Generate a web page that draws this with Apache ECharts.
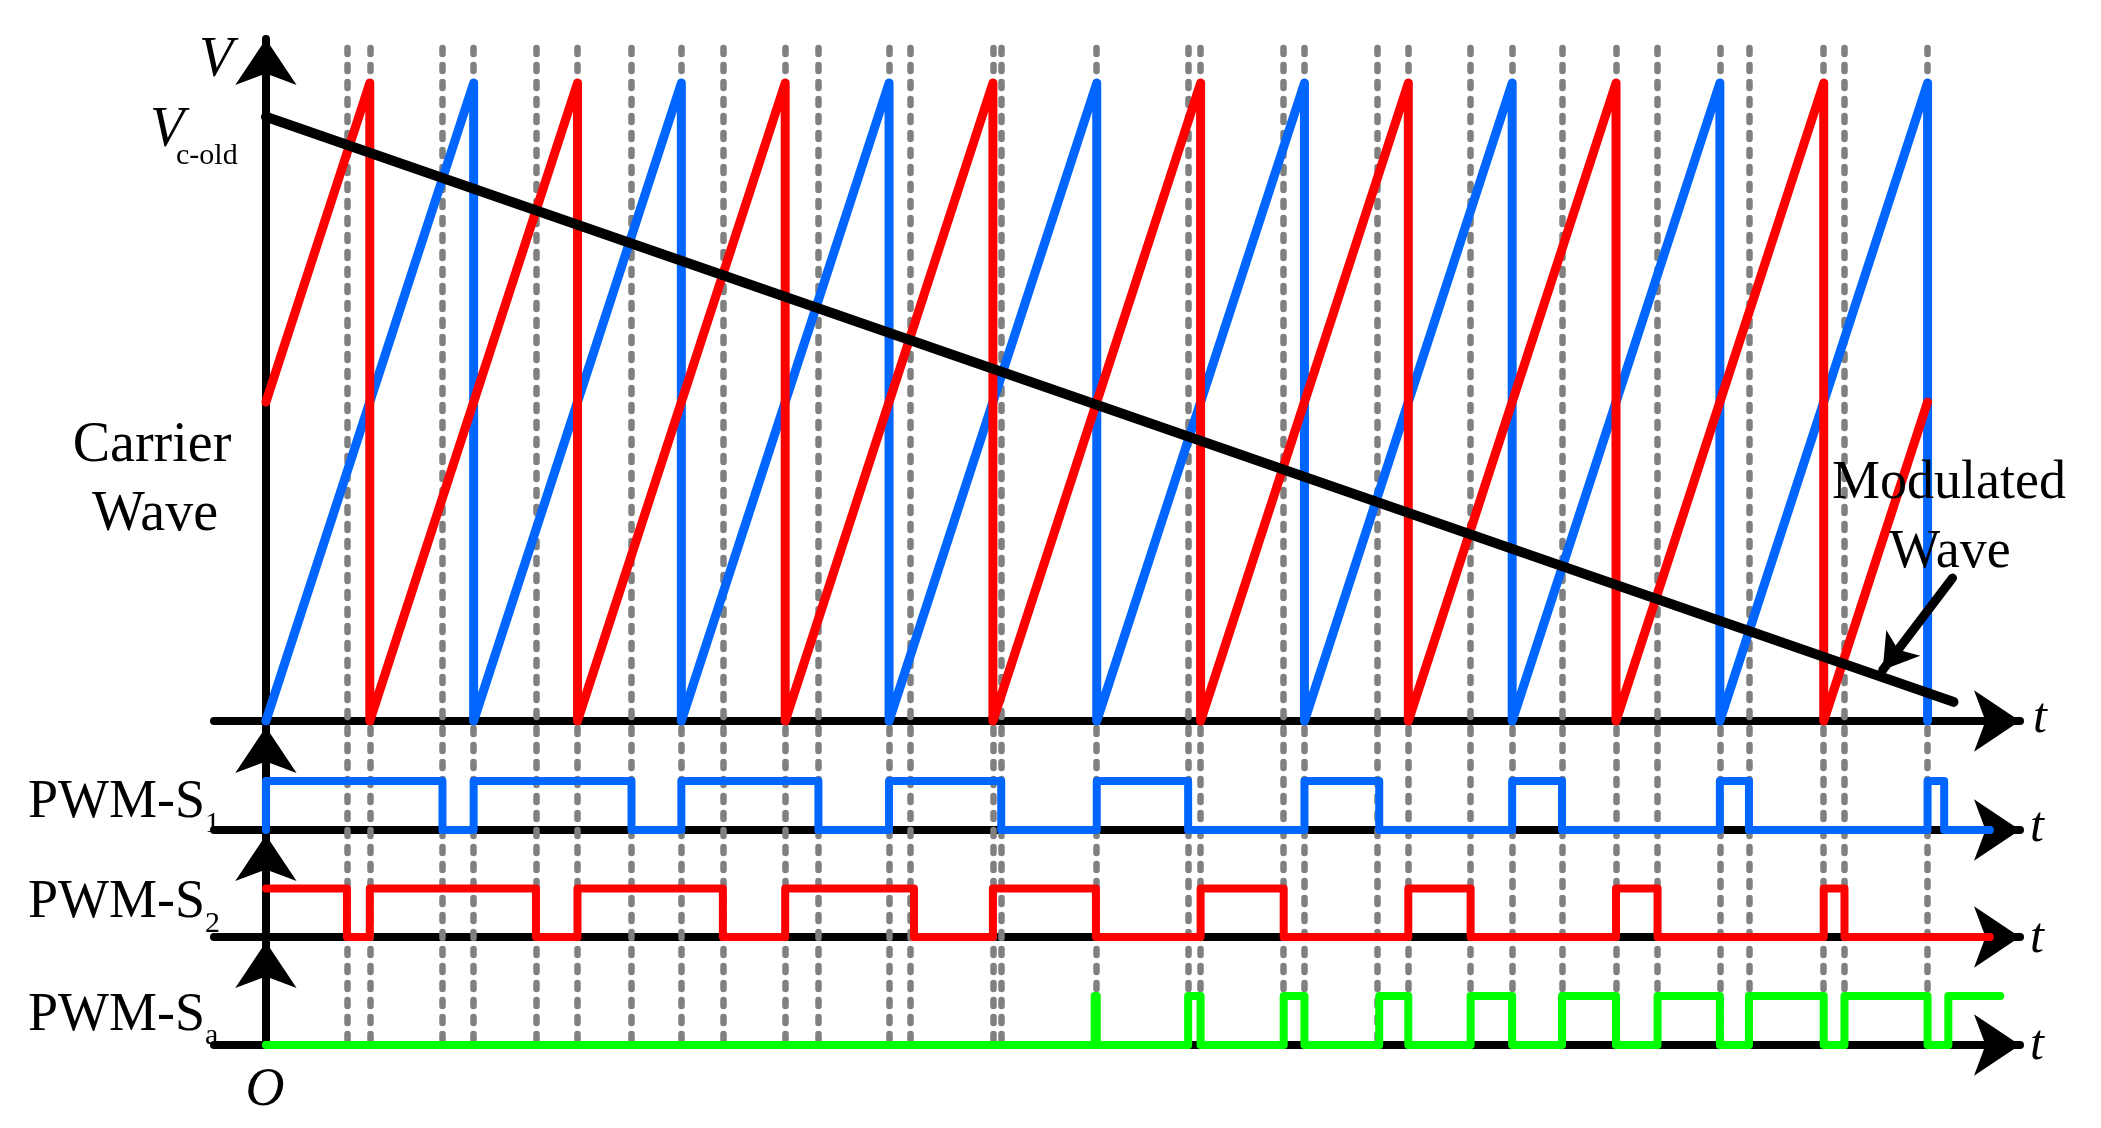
<!DOCTYPE html>
<html>
<head>
<meta charset="utf-8">
<script src="https://cdn.jsdelivr.net/npm/echarts@6/dist/echarts.min.js"></script>
<style>
  html, body { margin: 0; padding: 0; background: #fff; }
  #chart { width: 2101px; height: 1128px; }
</style>
</head>
<body>
<div id="chart"></div>
<script>
// time is in carrier periods, voltage is relative to the carrier peak
const blueCarrier = [[0, 0], [1, 1], [1, 0], [2, 1], [2, 0], [3, 1], [3, 0], [4, 1], [4, 0],
  [5, 1], [5, 0], [6, 1], [6, 0], [7, 1], [7, 0], [8, 1], [8, 0]];
const redCarrier = [[0, 0.5], [0.5, 1], [0.5, 0], [1.5, 1], [1.5, 0], [2.5, 1], [2.5, 0], [3.5, 1], [3.5, 0],
  [4.5, 1], [4.5, 0], [5.5, 1], [5.5, 0], [6.5, 1], [6.5, 0], [7.5, 1], [7.5, 0], [8, 0.5]];
const modulatedWave = [[0, 0.947], [8.125, 0.03]];

// switching signals: [time, level from that time on]
const pwmS1 = [[0, 0], [0, 1], [0.85, 0], [1, 1], [1.76, 0], [2, 1], [2.66, 0], [3, 1], [3.54, 0], [4, 1],
  [4.44, 0], [5, 1], [5.36, 0], [6, 1], [6.24, 0], [7, 1], [7.14, 0], [8, 1], [8.08, 0], [8.3, 0]];
const pwmS2 = [[0, 1], [0.39, 0], [0.5, 1], [1.3, 0], [1.5, 1], [2.2, 0], [2.5, 1], [3.12, 0], [3.5, 1],
  [3.996, 0], [4.5, 1], [4.9, 0], [5.5, 1], [5.8, 0], [6.5, 1], [6.7, 0], [7.5, 1], [7.6, 0], [8.3, 0]];
const pwmSa = [[0, 0], [3.99, 1], [4, 0], [4.44, 1], [4.5, 0], [4.9, 1], [5, 0], [5.36, 1], [5.5, 0],
  [5.8, 1], [6, 0], [6.24, 1], [6.5, 0], [6.7, 1], [7, 0], [7.14, 1], [7.5, 0], [7.6, 1], [8, 0], [8.1, 1], [8.35, 1]];

// dashed guide lines (carrier resets and crossings)
const switchTimes = [0.39, 0.5, 0.85, 1, 1.3, 1.5, 1.76, 2, 2.2, 2.5, 2.66, 3, 3.1, 3.5, 3.54, 4,
  4.44, 4.5, 4.9, 5, 5.35, 5.5, 5.8, 6, 6.24, 6.5, 6.7, 7, 7.14, 7.5, 7.6, 8];

// pointer from the "Modulated Wave" label to the line
const pointer = [[8.12, 0.224], [7.784, 0.08]];

const T_MIN = -0.25, T_MAX = 8.445;
const serif = 'Liberation Serif';

const chart = echarts.init(document.getElementById('chart'));

const arrowLine = {
  show: true,
  onZero: true,
  symbol: ['none', 'arrow'],
  symbolSize: [46, 46],
  lineStyle: { color: '#000', width: 8 }
};

function xAx(i) {
  return {
    type: 'value', gridIndex: i, min: T_MIN, max: T_MAX,
    axisLine: arrowLine, axisTick: { show: false }, axisLabel: { show: false }, splitLine: { show: false }
  };
}
function yAx(i, max) {
  return {
    type: 'value', gridIndex: i, min: 0, max: max,
    axisLine: arrowLine, axisTick: { show: false }, axisLabel: { show: false }, splitLine: { show: false }
  };
}

function wave(data, color, idx) {
  return {
    type: 'line', xAxisIndex: idx, yAxisIndex: idx, data: data, step: 'end',
    symbol: 'none', z: 3, clip: false,
    lineStyle: { color: color, width: 8, cap: 'round', join: 'round' }
  };
}

function txt(x, y, text, size, opts) {
  return {
    type: 'text', x: x, y: y, z: 100,
    style: Object.assign({
      text: text, fill: '#000', fontFamily: serif, fontSize: size,
      align: 'center', verticalAlign: 'middle'
    }, opts || {})
  };
}

const option = {
  animation: false,
  backgroundColor: '#fff',
  grid: [
    { left: 214, right: 81, top: 39, height: 682 },
    { left: 214, right: 81, top: 727, height: 103 },
    { left: 214, right: 81, top: 835, height: 102 },
    { left: 214, right: 81, top: 942, height: 103 },
    { left: 214, right: 81, top: 40, height: 1000 }
  ],
  xAxis: [xAx(0), xAx(1), xAx(2), xAx(3),
    { type: 'value', gridIndex: 4, min: T_MIN, max: T_MAX, show: false }],
  yAxis: [yAx(0, 1.069), yAx(1, 2.1), yAx(2, 2.1), yAx(3, 2.1),
    { type: 'value', gridIndex: 4, min: 0, max: 1, show: false }],
  series: [
    {
      type: 'line', xAxisIndex: 4, yAxisIndex: 4, data: [], z: 1, silent: true,
      markLine: {
        z: 1, silent: true, symbol: ['none', 'none'], label: { show: false },
        lineStyle: { color: '#808080', width: 6.5, type: [6, 11], cap: 'round' },
        data: switchTimes.map(t => ({ xAxis: t }))
      }
    },
    {
      type: 'line', xAxisIndex: 0, yAxisIndex: 0, data: blueCarrier, symbol: 'none', z: 3,
      lineStyle: { color: '#0066ff', width: 9, cap: 'round', join: 'round' }
    },
    {
      type: 'line', xAxisIndex: 0, yAxisIndex: 0, data: redCarrier, symbol: 'none', z: 4,
      lineStyle: { color: '#ff0000', width: 9, cap: 'round', join: 'round' }
    },
    {
      type: 'line', xAxisIndex: 0, yAxisIndex: 0, data: modulatedWave, symbol: 'none', z: 5,
      lineStyle: { color: '#000', width: 10, cap: 'round' },
      markLine: {
        z: 6, silent: true, symbol: ['none', 'arrow'], symbolSize: [32, 34], label: { show: false },
        lineStyle: { color: '#000', width: 9, type: 'solid', cap: 'round' },
        data: [[{ coord: pointer[0] }, { coord: pointer[1] }]]
      }
    },
    wave(pwmS1, '#0066ff', 1),
    wave(pwmS2, '#ff0000', 2),
    wave(pwmSa, '#00ff00', 3)
  ],
  graphic: [
    txt(216, 61, 'V', 56, { fontStyle: 'italic' }),
    txt(167, 131, 'V', 56, { fontStyle: 'italic' }),
    txt(176, 156, 'c-old', 30, { align: 'left' }),
    txt(152, 446, 'Carrier', 56),
    txt(155, 515, 'Wave', 56),
    txt(1949, 484, 'Modulated', 54),
    txt(1950, 553, 'Wave', 54),
    txt(205, 803, 'PWM-S', 54, { align: 'right' }),
    txt(205, 824, '1', 30, { align: 'left' }),
    txt(205, 903, 'PWM-S', 54, { align: 'right' }),
    txt(205, 924, '2', 30, { align: 'left' }),
    txt(205, 1016, 'PWM-S', 54, { align: 'right' }),
    txt(205, 1036, 'a', 30, { align: 'left' }),
    txt(265, 1091, 'O', 54, { fontStyle: 'italic' }),
    txt(2040, 719, 't', 50, { fontStyle: 'italic' }),
    txt(2037, 828, 't', 50, { fontStyle: 'italic' }),
    txt(2037, 939, 't', 50, { fontStyle: 'italic' }),
    txt(2037, 1046, 't', 50, { fontStyle: 'italic' })
  ]
};

chart.setOption(option);
</script>
</body>
</html>
